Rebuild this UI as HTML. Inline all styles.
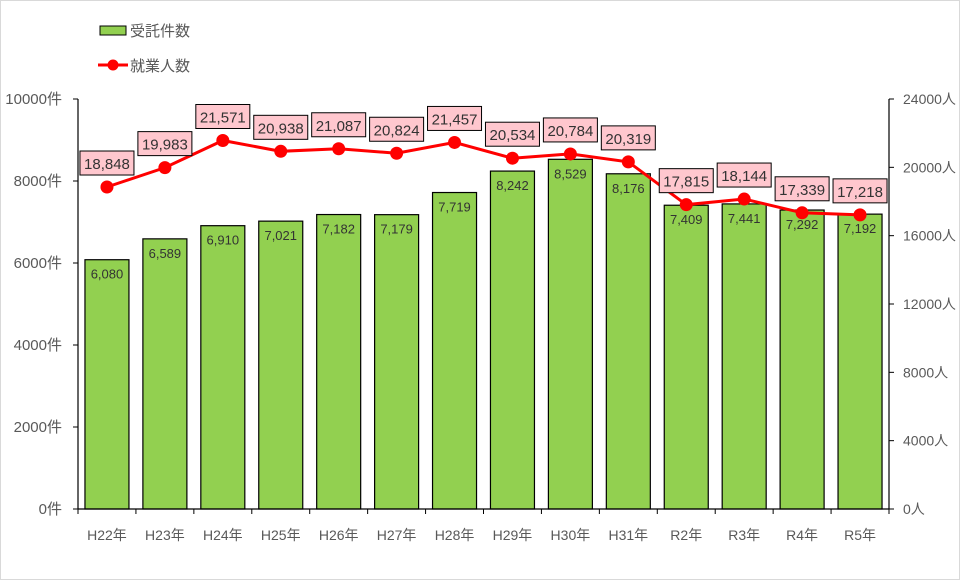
<!DOCTYPE html>
<html><head><meta charset="utf-8"><style>
body{margin:0;background:#fff}
svg text{font-family:"Liberation Sans","Noto Sans CJK JP",sans-serif;}
</style></head><body>
<svg width="960" height="580" xmlns="http://www.w3.org/2000/svg">
<rect x="0.5" y="0.5" width="959" height="579" fill="#fff" stroke="#d9d9d9"/>
<g id="legend">
<rect x="100" y="26" width="26" height="9" fill="#92d050" stroke="#000" stroke-width="1"/>
<text x="130" y="36" font-size="15" fill="#595959">受託件数</text>
<line x1="98" y1="65" x2="128" y2="65" stroke="#f00" stroke-width="3"/>
<circle cx="113" cy="65" r="5.5" fill="#f00"/>
<text x="130" y="71" font-size="15" fill="#595959">就業人数</text>
</g>
<g id="chart"></g>
</svg>
<script>
const bars=[6080,6589,6910,7021,7182,7179,7719,8242,8529,8176,7409,7441,7292,7192];
const ppl=[18848,19983,21571,20938,21087,20824,21457,20534,20784,20319,17815,18144,17339,17218];
const cats=["H22年","H23年","H24年","H25年","H26年","H27年","H28年","H29年","H30年","H31年","R2年","R3年","R4年","R5年"];
const L=78,R=889,B=509,T=99,cw=(R-L)/14;
const yl=v=>B-(B-T)*v/10000, yr=v=>B-(B-T)*v/24000;
const fmt=n=>n.toLocaleString('en-US');
let s='';
for(let i=0;i<14;i++){
 const cx=L+cw*(i+0.5),y=yl(bars[i]);
 s+=`<rect x="${cx-22}" y="${y}" width="44" height="${B-y}" fill="#92d050" stroke="#000" stroke-width="1.2"/>`;
 s+=`<text x="${cx}" y="${y+19}" font-size="13" fill="#333" text-anchor="middle">${fmt(bars[i])}</text>`;
 s+=`<text x="${cx}" y="540" font-size="14" fill="#595959" text-anchor="middle">${cats[i]}</text>`;
}
for(let i=0;i<=14;i++){const x=L+cw*i;s+=`<line x1="${x}" y1="${B}" x2="${x}" y2="${B+5}" stroke="#000"/>`;}
s+=`<line x1="${L}" y1="${T}" x2="${L}" y2="${B}" stroke="#000" stroke-width="1.2"/>`;
s+=`<line x1="${R}" y1="${T}" x2="${R}" y2="${B}" stroke="#000" stroke-width="1.2"/>`;
s+=`<line x1="${L}" y1="${B}" x2="${R}" y2="${B}" stroke="#000" stroke-width="1.2"/>`;
for(let k=0;k<=5;k++){const v=k*2000,y=yl(v);
 s+=`<line x1="${L-5}" y1="${y}" x2="${L}" y2="${y}" stroke="#000"/>`;
 s+=`<text x="62" y="${y+5}" font-size="15" fill="#595959" text-anchor="end">${v}件</text>`;}
for(let k=0;k<=6;k++){const v=k*4000,y=yr(v);
 s+=`<line x1="${R}" y1="${y}" x2="${R+5}" y2="${y}" stroke="#000"/>`;
 s+=`<text x="903" y="${y+5}" font-size="14" fill="#595959">${v}人</text>`;}
let pts=ppl.map((v,i)=>`${L+cw*(i+0.5)},${yr(v)}`).join(' ');
s+=`<polyline points="${pts}" fill="none" stroke="#f00" stroke-width="3"/>`;
for(let i=0;i<14;i++){const cx=L+cw*(i+0.5),y=yr(ppl[i]);
 s+=`<circle cx="${cx}" cy="${y}" r="6.5" fill="#f00"/>`;}
for(let i=0;i<14;i++){const cx=L+cw*(i+0.5),y=yr(ppl[i]);
 s+=`<rect x="${cx-27}" y="${y-36}" width="54" height="24" fill="#ffc7ce" stroke="#000" stroke-width="1"/>`;
 s+=`<text x="${cx}" y="${y-18}" font-size="15" fill="#333" text-anchor="middle">${fmt(ppl[i])}</text>`;}
document.getElementById('chart').innerHTML=s;
</script>
</body></html>
